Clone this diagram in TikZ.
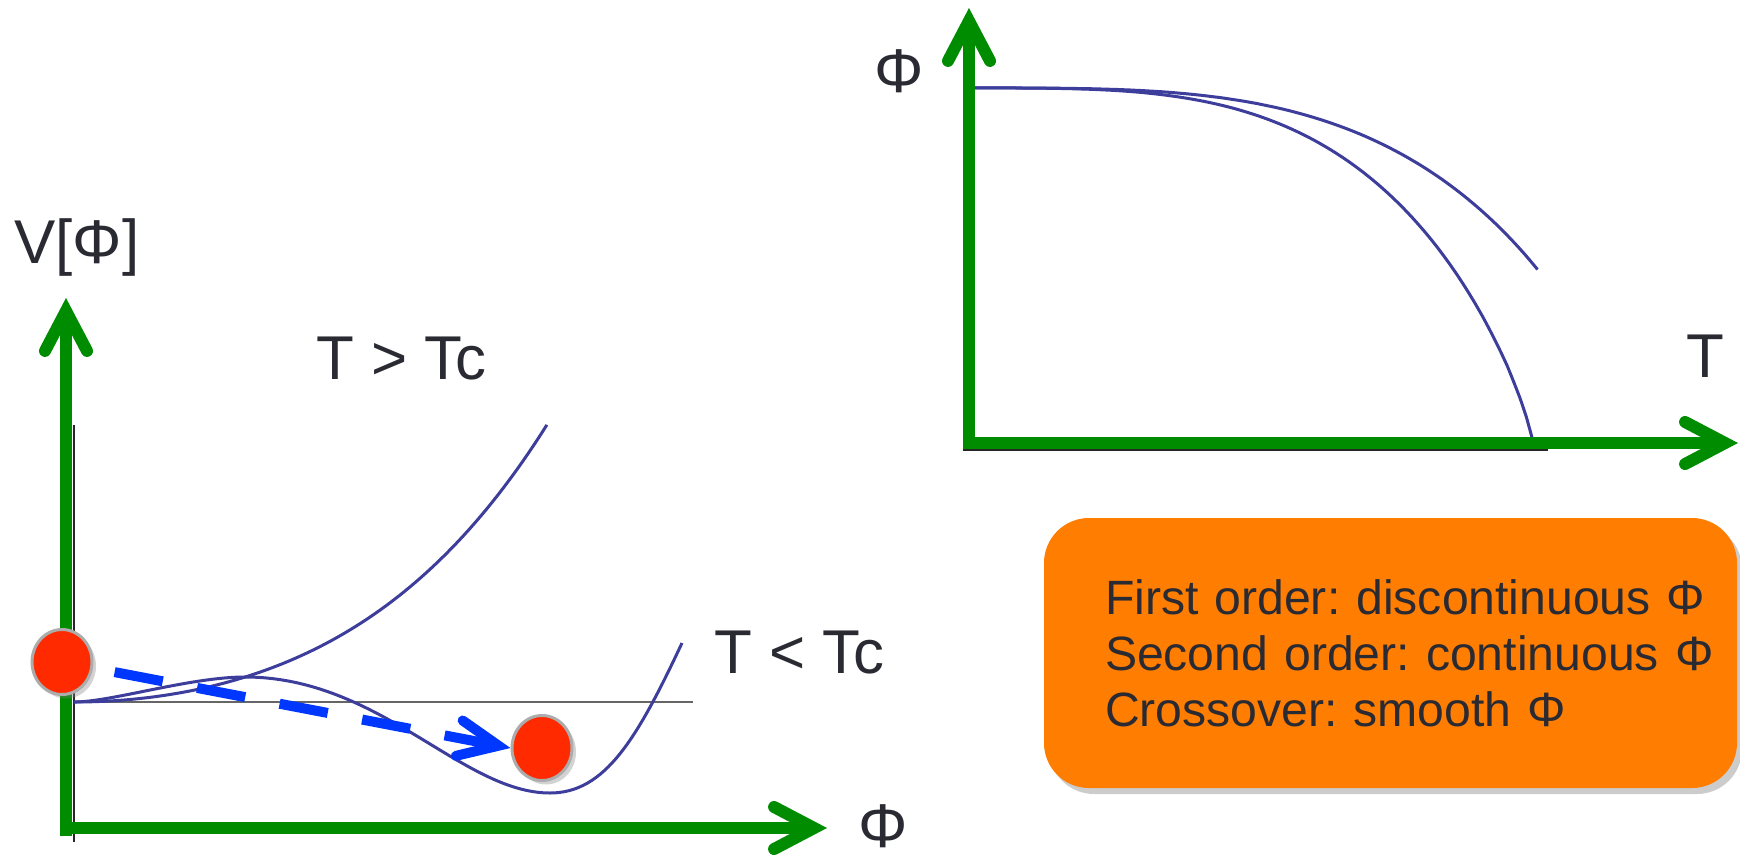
\documentclass[tikz,border=0pt]{standalone}
\usepackage{fontspec}
\setmainfont{Liberation Sans}
\usetikzlibrary{arrows.meta,positioning,shapes.geometric,shadows}
\definecolor{axisgreen}{HTML}{008C00}
\definecolor{curveblue}{HTML}{3D3D9C}
\definecolor{rollblue}{HTML}{0037FF}
\definecolor{ballred}{HTML}{FF2A00}
\definecolor{noteorange}{HTML}{FF7D00}
\definecolor{textgrey}{HTML}{2A2A33}

\begin{document}
\begin{tikzpicture}[
    axis/.style={line width=1.2mm,axisgreen,-{Straight Barb[length=4mm,width=4.2mm,line cap=round,line join=miter]}},
    curve/.style={line width=0.3mm,curveblue},
    guide/.style={line width=0.15mm,black!85},
    ball/.style={ellipse,draw=gray!65,line width=0.3mm,fill=ballred,minimum width=6mm,minimum height=6.5mm,inner sep=0,
        drop shadow={opacity=0.35,shadow xshift=0.4mm,shadow yshift=-0.4mm}},
    roll/.style={line width=1mm,rollblue,dash pattern=on 4.9mm off 3.5mm,shorten <=2.2mm,
        -{Straight Barb[length=4mm,width=3.6mm,line cap=round,line join=miter]}},
    lbl/.style={font=\fontsize{17.6}{21}\selectfont,text=textgrey,inner sep=0},
    note/.style={rounded corners=4.5mm,fill=noteorange,minimum width=6.93cm,minimum height=2.7cm,
        text width=5.71cm,align=left,font=\fontsize{13.7}{15.9}\selectfont\frenchspacing,text=textgrey,
        drop shadow={opacity=0.4,shadow xshift=0.5mm,shadow yshift=-0.6mm}}
]
\useasboundingbox (0,0) rectangle (17.4,8.56);

% thin guide lines
\draw[guide] (0.74,4.31) -- (0.74,0.14);
\draw[guide,black!60] (0.74,1.54) -- (6.93,1.54);
\draw[guide] (9.63,4.06) -- (15.48,4.06);

% potentials
\draw[curve] plot[domain=0:4.73,samples=80] ({0.74+\x},{1.54+0.07957*\x*\x+0.001979*\x^4});
\draw[curve] (0.74,1.54) .. controls (1.11,1.54) and (1.90,1.79) .. (2.45,1.79)
    .. controls (3.80,1.79) and (4.62,0.63) .. (5.50,0.63)
    .. controls (6.05,0.63) and (6.37,1.17) .. (6.82,2.13);

% order parameter
\draw[curve] (9.69,7.68) -- plot[domain=0.002:0.998,samples=90] ({9.69+5.65*\x},{4.08+3.6*(1-\x^3.5)^0.8}) -- (15.34,4.08);
\draw[curve] (9.69,7.68) -- plot[domain=0.002:0.858,samples=90] ({9.69+6.63*\x},{4.08+3.6*(1-\x^3.5)^0.8});

% axes
\draw[axis] (0.66,0.20) -- (0.66,5.58);
\draw[axis] (0.60,0.28) -- (8.27,0.28);
\draw[axis] (9.69,4.07) -- (9.69,8.48);
\draw[axis] (9.63,4.13) -- (17.38,4.13);

% rolling ball
\node[ball] (start) at (0.62,1.94) {};
\node[ball] (finish) at (5.42,1.08) {};
\draw[roll] (start) -- (finish.west);

% labels
\node[lbl,anchor=base] (vlabel) at (0.77,5.93) {V[Φ]};
\node[lbl,anchor=base west] (hot) at (3.16,4.77) {T > Tc};
\node[lbl,anchor=base west] (cold) at (7.14,1.83) {T < Tc};
\node[lbl,anchor=base] (phiaxis) at (8.83,0.09) {Φ};
\node[lbl,anchor=base] (phiorder) at (8.99,7.64) {Φ};
\node[lbl,anchor=base west] (taxis) at (16.86,4.79) {T};

\node[note] (summary) at (13.905,2.03) {\mbox{First order: discontinuous Φ}\\\mbox{Second order: continuous Φ}\\\mbox{Crossover: smooth Φ}};
\end{tikzpicture}
\end{document}
